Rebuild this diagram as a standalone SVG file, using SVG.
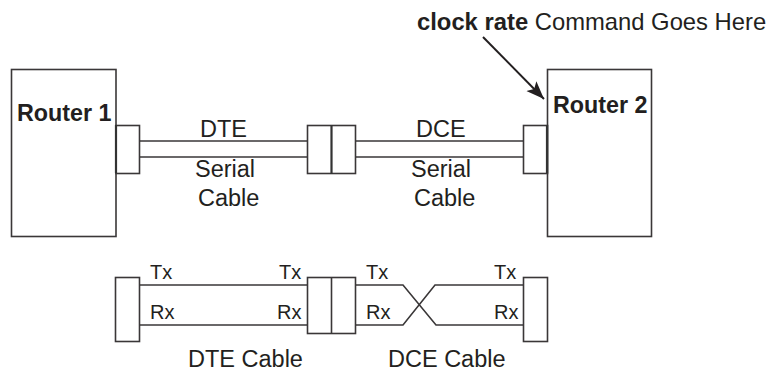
<svg xmlns="http://www.w3.org/2000/svg" width="771" height="372" viewBox="0 0 771 372">
<style>
text{font-family:"Liberation Sans",Arial,sans-serif;fill:#231f20}
.b{font-weight:bold}
.t{font-size:23.500px}
.c{font-size:23.800px}
.r{font-size:23.300px}
.s{font-size:20px}
.box{fill:#fff;stroke:#3a3738;stroke-width:1.6}
.thick{stroke-width:2.2;stroke:#333;fill:none}
.w{fill:none;stroke:#3a3738;stroke-width:1.6}
</style>
<defs><marker id="arr" markerUnits="userSpaceOnUse" markerWidth="20" markerHeight="16" refX="18" refY="7" orient="auto"><path d="M0 0L18 7L0 14L4 7Z" fill="#231f20"/></marker></defs>
<rect width="771" height="372" fill="#fff"/>
<g id="connectors">
<path class="w" d="M140 141H307M140 157H307M356 141H523M356 157H523"/>
<path class="w" d="M140 285H307M140 325H307M356 285H403L436 325H523M356 325H403L435 285H523"/>
<path d="M483 37L544 99" fill="none" stroke="#231f20" stroke-width="2" marker-end="url(#arr)"/>
</g>
<g id="router-1"><rect class="box" x="11.5" y="69.5" width="104.500" height="167"/><text class="r b" x="17" y="121">Router 1</text></g>
<g id="router-2"><rect class="box" x="547.5" y="69.5" width="104" height="167"/><text class="r b" x="553" y="113">Router 2</text></g>
<g id="conn-1"><rect class="box" x="116" y="125.500" width="23.500" height="48"/><path class="thick" d="M116 125V173"/></g>
<g id="conn-mid"><rect class="box" x="307.500" y="125.500" width="48" height="48"/><path class="thick" d="M331.500 125V174"/></g>
<g id="conn-2"><rect class="box" x="523.500" y="125.500" width="24" height="48"/><path class="thick" d="M547 125V173"/></g>
<g id="conn-b1"><rect class="box" x="115.500" y="277.500" width="24" height="64"/></g>
<g id="conn-bmid"><rect class="box" x="307.500" y="277.500" width="48" height="56"/><path class="w" d="M331.500 277V334"/></g>
<g id="conn-b2"><rect class="box" x="523.500" y="277.500" width="24" height="64"/></g>
<g id="labels">
<text class="c" x="417" y="30"><tspan class="b">clock rate</tspan> Command Goes Here</text>
<text class="t" x="200" y="137">DTE</text>
<text class="t" x="416" y="137">DCE</text>
<text class="t" x="195" y="177">Serial</text>
<text class="t" x="198" y="206">Cable</text>
<text class="t" x="411" y="177">Serial</text>
<text class="t" x="414" y="206">Cable</text>
<text class="s" x="150" y="279">Tx</text>
<text class="s" x="150" y="319">Rx</text>
<text class="s" x="279" y="279">Tx</text>
<text class="s" x="277" y="319">Rx</text>
<text class="s" x="366" y="279">Tx</text>
<text class="s" x="366" y="319">Rx</text>
<text class="s" x="494" y="279">Tx</text>
<text class="s" x="494" y="319">Rx</text>
<text class="t" x="188" y="366.800">DTE Cable</text>
<text class="t" x="388" y="366.800">DCE Cable</text>
</g>
</svg>
